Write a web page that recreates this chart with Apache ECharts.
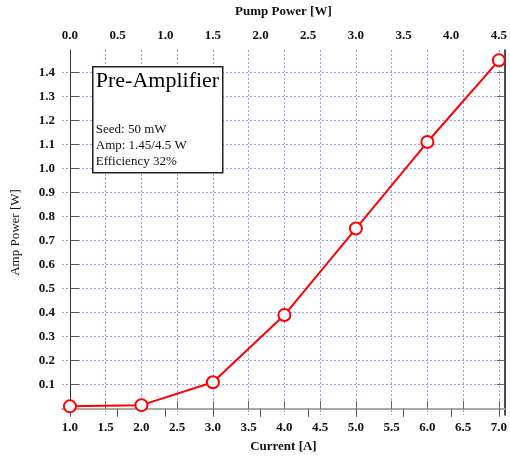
<!DOCTYPE html>
<html><head><meta charset="utf-8">
<script src="https://cdn.jsdelivr.net/npm/echarts@6/dist/echarts.min.js"></script>
<style>html,body{margin:0;padding:0;background:#fff}#c{width:510px;height:458px}</style>
</head><body><div id="c"></div>
<script>
const currents = [1, 2, 3, 4, 5, 6, 7];
const ampPower = [0.01, 0.015, 0.11, 0.39, 0.75, 1.11, 1.45];
const currentTicks = [1.0, 1.5, 2.0, 2.5, 3.0, 3.5, 4.0, 4.5, 5.0, 5.5, 6.0, 6.5, 7.0];
const pumpTicks = [0.0, 0.5, 1.0, 1.5, 2.0, 2.5, 3.0, 3.5, 4.0, 4.5];
const powerTicks = [0.1, 0.2, 0.3, 0.4, 0.5, 0.6, 0.7, 0.8, 0.9, 1.0, 1.1, 1.2, 1.3, 1.4];
const boxTitle = 'Pre-Amplifier';
const boxLines = ['Seed: 50 mW', 'Amp: 1.45/4.5 W', 'Efficiency 32%'];

const xMin = 0.889, xMax = 7.083;
const pumpPerAmp = 0.75; // pump = 0.75*(I-1)
const font = 'Liberation Serif';
const gridStyle = {show: true, lineStyle: {color: '#9c9cff', width: 1, type: [2, 2]}};
const lbl = {fontFamily: font, fontWeight: 'bold', fontSize: 13, color: '#111'};

const chart = echarts.init(document.getElementById('c'));
chart.setOption({
  animation: false,
  grid: {left: 62, right: 2, top: 47, bottom: 37},
  xAxis: [{
    type: 'value', min: xMin, max: xMax, position: 'bottom',
    name: 'Current [A]', nameLocation: 'middle', nameGap: 25,
    nameTextStyle: {fontFamily: font, fontWeight: 'bold', fontSize: 13, color: '#111'},
    axisLine: {lineStyle: {color: '#8a8a8a', width: 1.5}},
    axisTick: {inside: true, length: 8, customValues: currentTicks, lineStyle: {color: '#666'}},
    axisLabel: Object.assign({customValues: currentTicks, margin: 6, formatter: v => v.toFixed(1)}, lbl),
    splitLine: gridStyle
  }, {
    type: 'value', min: pumpPerAmp * (xMin - 1), max: pumpPerAmp * (xMax - 1), position: 'top',
    name: 'Pump Power [W]', nameLocation: 'middle', nameGap: 32,
    nameTextStyle: {fontFamily: font, fontWeight: 'bold', fontSize: 13, color: '#111'},
    axisLine: {lineStyle: {color: '#aaa', width: 1.5}},
    axisTick: {inside: true, length: 8, customValues: pumpTicks, lineStyle: {color: '#555'}},
    axisLabel: Object.assign({customValues: pumpTicks, margin: 8, formatter: v => v.toFixed(1)}, lbl),
    splitLine: {show: false}
  }],
  yAxis: [{
    type: 'value', min: -0.026, max: 1.493, position: 'left',
    name: 'Amp Power [W]', nameLocation: 'middle', nameGap: 40, nameRotate: 90,
    nameTextStyle: {fontFamily: font, fontSize: 13, color: '#111'},
    axisLine: {show: true, lineStyle: {color: '#333', width: 1}},
    axisTick: {show: true, inside: true, length: 9, customValues: powerTicks, lineStyle: {color: '#555'}},
    axisLabel: Object.assign({customValues: powerTicks, margin: 7, formatter: v => v.toFixed(1)}, lbl),
    splitLine: gridStyle
  }, {
    type: 'value', min: -0.026, max: 1.493, position: 'right',
    axisLine: {show: true, lineStyle: {color: '#111', width: 1.5}},
    axisTick: {show: true, inside: true, length: 8, customValues: powerTicks, lineStyle: {color: '#666'}},
    axisLabel: {show: false},
    splitLine: {show: false}
  }],
  series: [{
    type: 'line', xAxisIndex: 0, yAxisIndex: 0,
    data: currents.map((c, i) => [c, ampPower[i]]),
    symbol: 'emptyCircle', symbolSize: 12,
    lineStyle: {color: '#ff0000', width: 2},
    itemStyle: {color: '#ff0000', borderWidth: 2}
  }],
  graphic: [{
    type: 'group', left: 92, top: 66, z: 100,
    children: [
      {type: 'rect', z: 100, shape: {x: 0, y: 0, width: 130, height: 106}, style: {fill: '#fff', stroke: '#222', lineWidth: 1.5}},
      {type: 'text', z: 101, x: 3, y: 3, style: {text: boxTitle, font: '22px "Liberation Serif"', fill: '#000'}},
      {type: 'text', z: 101, x: 3, y: 55, style: {text: boxLines.join('\n'), font: '13px "Liberation Serif"', lineHeight: 16, fill: '#111'}}
    ]
  }]
});
</script></body></html>
